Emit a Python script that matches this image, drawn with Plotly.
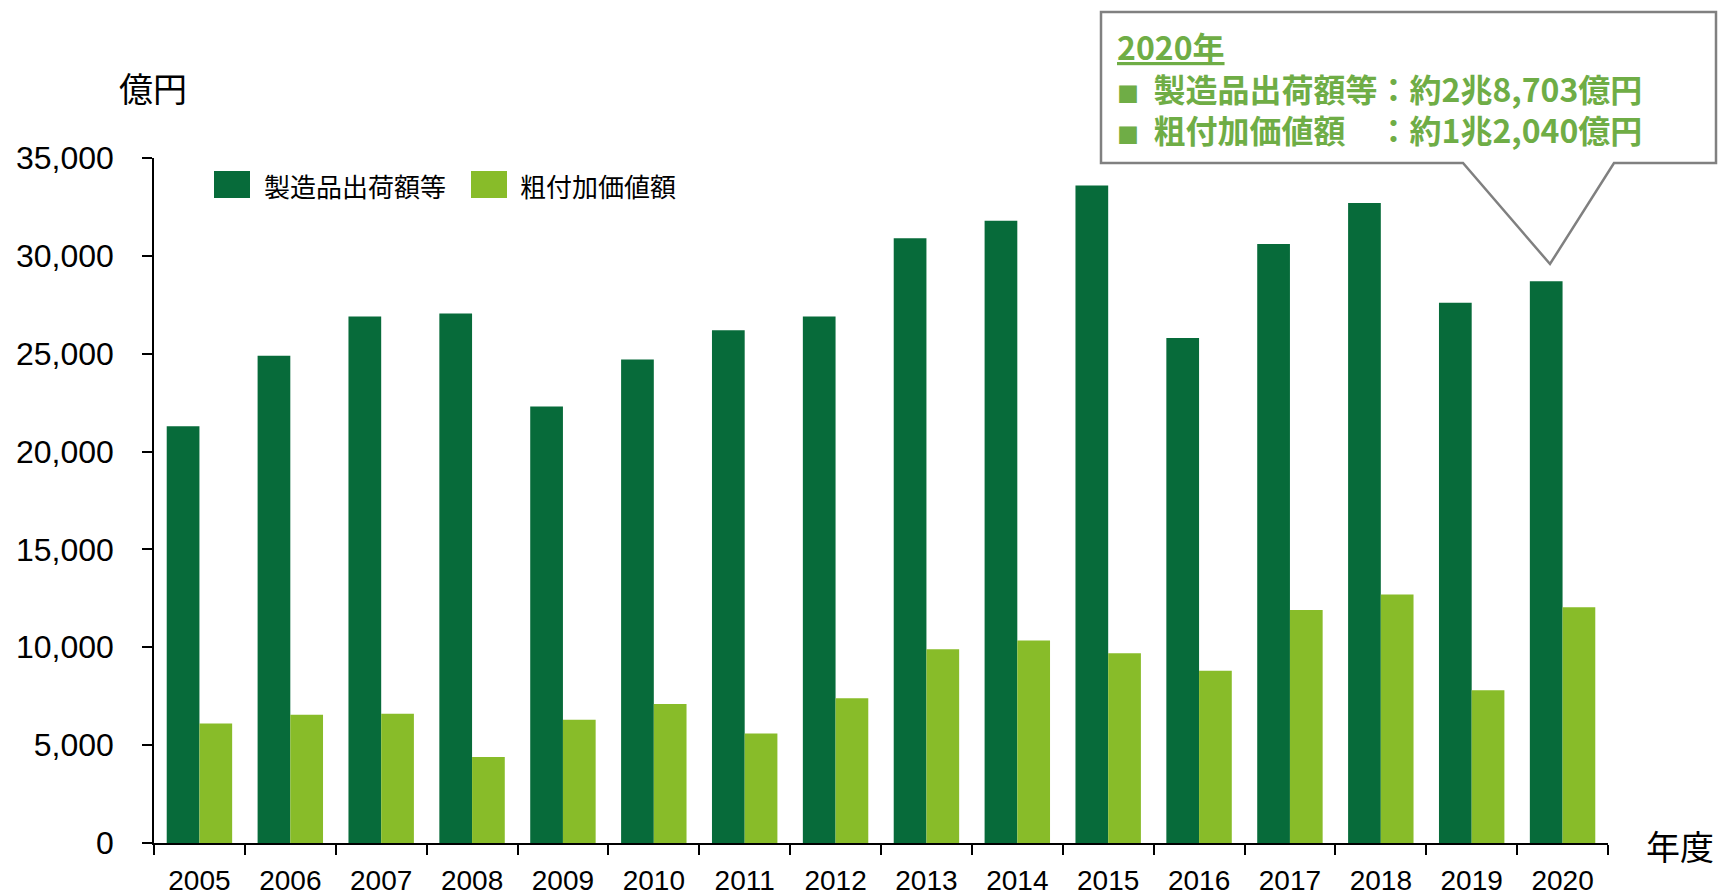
import plotly.graph_objects as go

years = ["2005", "2006", "2007", "2008", "2009", "2010", "2011", "2012",
         "2013", "2014", "2015", "2016", "2017", "2018", "2019", "2020"]
shipments = [21300, 24900, 26900, 27050, 22300, 24700, 26200, 26900,
             30900, 31800, 33600, 25800, 30600, 32700, 27600, 28703]
value_added = [6100, 6550, 6600, 4400, 6300, 7100, 5600, 7400,
               9900, 10350, 9700, 8800, 11900, 12700, 7800, 12040]
series_names = ["製造品出荷額等", "粗付加価値額"]
y_ticks = [0, 5000, 10000, 15000, 20000, 25000, 30000, 35000]

DARK = "#076B3A"
LIGHT = "#88BC29"
TXTG = "#6FAD46"
CJK = "Noto Sans CJK JP"
NUM = "Liberation Sans, Arial"

W, H = 1718, 896
L, R, T, B = 154, 1608, 158, 843


def px(x):
    return (x - L) / (R - L)


def py(y):
    return (B - y) / (B - T)


fig = go.Figure()
fig.add_bar(x=years, y=shipments, name=series_names[0], marker_color=DARK,
            marker_line_width=0, showlegend=False)
fig.add_bar(x=years, y=value_added, name=series_names[1], marker_color=LIGHT,
            marker_line_width=0, showlegend=False)

shapes = []
annotations = []

# manual legend (large square swatches like the reference)
for (x0, x1, tx), col, name in zip([(214, 250, 262), (471, 507, 518)], [DARK, LIGHT], series_names):
    shapes.append(dict(type="rect", xref="paper", yref="paper",
                       x0=px(x0), x1=px(x1), y0=py(198), y1=py(171),
                       fillcolor=col, line_width=0))
    annotations.append(dict(text=name, xref="paper", yref="paper", x=px(tx), y=py(185),
                            xanchor="left", yanchor="middle", showarrow=False,
                            font=dict(family=CJK, size=26, color="#000000")))

# axis titles
annotations.append(dict(text="億円", xref="paper", yref="paper", x=px(153), y=py(88),
                        xanchor="center", yanchor="middle", showarrow=False,
                        font=dict(family=CJK, size=34, color="#000000")))
annotations.append(dict(text="年度", xref="paper", yref="paper", x=px(1680), y=py(845),
                        xanchor="center", yanchor="middle", showarrow=False,
                        font=dict(family=CJK, size=34, color="#000000")))

# callout box with pointer
bx0, by0, bx1, by1 = 1101, 12, 1716, 163
p1, p2, tipx, tipy = 1463, 1614, 1550, 264
path = (f"M {px(bx0)},{py(by0)} L {px(bx1)},{py(by0)} L {px(bx1)},{py(by1)} "
        f"L {px(p2)},{py(by1)} L {px(tipx)},{py(tipy)} L {px(p1)},{py(by1)} "
        f"L {px(bx0)},{py(by1)} Z")
shapes.append(dict(type="path", xref="paper", yref="paper", path=path,
                   fillcolor="#FFFFFF", line=dict(color="#808080", width=2.5)))


def oku_text(v):
    cho, oku = divmod(v, 10000)
    return f"約{cho}兆{oku:,}億円"


bullet = '<span style="font-size:22px">■</span>&nbsp;&nbsp;'
width = max(len(n) for n in series_names)
lines = [f"<b><u>{years[-1]}年</u></b>"]
for n, v in zip(series_names, [shipments[-1], value_added[-1]]):
    lines.append(f"<b>{bullet}{n}{'　' * (width - len(n))}：{oku_text(v)}</b>")

annotations.append(dict(text="<br>".join(lines), xref="paper", yref="paper",
                        x=px(1115), y=py(88), xanchor="left", yanchor="middle", align="left",
                        showarrow=False, font=dict(family=CJK, size=32, color=TXTG)))

fig.update_layout(
    width=W, height=H,
    margin=dict(l=L, r=W - R, t=T, b=H - B, pad=0),
    paper_bgcolor="#FFFFFF", plot_bgcolor="#FFFFFF",
    barmode="group", bargap=0.28, bargroupgap=0,
    shapes=shapes, annotations=annotations,
    showlegend=False,
    xaxis=dict(type="category", showline=True, linecolor="#000000", linewidth=2,
               ticks="outside", tickson="boundaries", ticklen=10, tickwidth=1.5,
               tickcolor="#000000", showgrid=False, automargin=False,
               tickfont=dict(family=NUM, size=28, color="#000000"),
               ticklabelstandoff=11),
    yaxis=dict(range=[0, 35000], tickvals=y_ticks, tickformat=",d",
               showline=True, linecolor="#000000", linewidth=1.5,
               ticks="outside", ticklen=10, tickwidth=1.5, tickcolor="#000000",
               showgrid=False, zeroline=False, automargin=False,
               tickfont=dict(family=NUM, size=32, color="#000000"),
               ticklabelstandoff=22),
)

fig.write_html("out.html", config={"displayModeBar": False},
               post_script="document.body.style.margin='0';document.body.style.overflow='hidden';")
